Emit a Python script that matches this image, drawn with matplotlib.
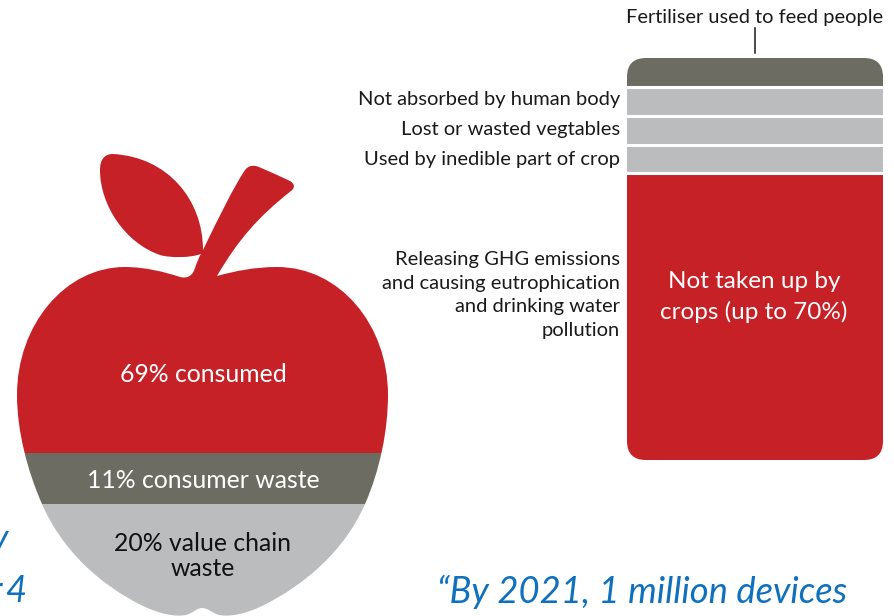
import matplotlib
matplotlib.use('Agg')
import matplotlib.pyplot as plt
from matplotlib.path import Path
from matplotlib.patches import PathPatch, FancyBboxPatch

RED = '#c62127'
DARK = '#6d6c62'
GREY = '#bbbcbe'
BLUE = '#0f70bd'
FONT = 'Lato'

# Food shares shown on the apple, bottom band first
apple_labels = ['20% value chain\nwaste', '11% consumer waste', '69% consumed']
apple_shares = [20, 11, 69]
apple_colors = [GREY, DARK, RED]
apple_text_colors = ['#111111', 'white', 'white']
# The silhouette is not linear in share, so the band edges are set by hand
apple_band_edges = [620, 504, 453, 150]
apple_label_y = [556, 481, 375]

# Fertiliser column, bottom segment first
column_values = [70, 7.05, 7.05, 7.05, 7.05]
column_colors = [RED, GREY, GREY, GREY, DARK]
column_side_labels = ['Releasing GHG emissions\nand causing eutrophication\nand drinking water\npollution',
                      'Used by inedible part of crop',
                      'Lost or wasted vegtables',
                      'Not absorbed by human body']
column_side_y = [295, 159, 129, 100]

fig = plt.figure(figsize=(8.95, 6.16), dpi=100)
ax = fig.add_axes([0, 0, 1, 1], zorder=2)
ax.set_xlim(0, 895)
ax.set_ylim(616, 0)
ax.axis('off')

# apple outline: body, stem and leaf as one path
verts = [
    (217, 276),
    (235, 271), (255, 267), (277, 267),
    (340, 267), (388, 325), (388, 395),
    (388, 430), (380, 470), (365, 504),
    (345, 550), (305, 585), (262, 606),
    (245, 614), (230, 617), (219, 615),
    (212, 613), (208, 608), (202, 608),
    (197, 608), (193, 613), (186, 615),
    (175, 617), (160, 614), (143, 606),
    (100, 585), (62, 550), (42, 504),
    (27, 470), (17, 430), (17, 395),
    (17, 325), (65, 267), (125, 267),
    (145, 267), (165, 272), (180, 277),
    (188, 279), (193, 275), (195, 268),
    (197, 262), (199, 257), (201, 254),
    (190, 258), (170, 258), (160, 255),
    (125, 243), (100, 205), (100, 170),
    (100, 160), (104, 154), (113, 154),
    (168, 157), (203, 200), (203, 250),
    (220, 215), (232, 190), (245, 170),
    (249, 165), (254, 165), (259, 167),
    (270, 172), (280, 176), (290, 181),
    (295, 184), (295, 188), (291, 191),
    (258, 217), (238, 240), (217, 276),
]
codes = [Path.MOVETO] + [Path.CURVE4] * (len(verts) - 1)
apple = PathPatch(Path(verts, codes), facecolor='none', edgecolor='none', transform=ax.transData)
ax.add_patch(apple)

for i in range(len(apple_shares)):
    band = ax.bar(200, apple_band_edges[i + 1] - apple_band_edges[i], width=400,
                  bottom=apple_band_edges[i], color=apple_colors[i], linewidth=0)
    band[0].set_clip_path(apple)
    ax.text(203, apple_label_y[i], apple_labels[i], color=apple_text_colors[i], fontsize=17.8,
            family=FONT, ha='center', va='center', linespacing=1.08)

# column axes is scaled to the values, the rounded shape trims the outer corners
left, right, top, bottom = 627, 883, 58, 460
ax2 = fig.add_axes([left / 895, 1 - bottom / 616, (right - left) / 895, (bottom - top) / 616], zorder=1)
ax2.set_xlim(0, 1)
ax2.set_ylim(0, sum(column_values))
ax2.axis('off')

outline = FancyBboxPatch((left + 19, top + 19), right - left - 38, bottom - top - 38,
                         boxstyle='round,pad=19,rounding_size=19',
                         facecolor='none', edgecolor='none', transform=ax.transData)
ax.add_patch(outline)

base = 0
for val, col in zip(column_values, column_colors):
    seg = ax2.bar(0.5, val, width=1, bottom=base, color=col, linewidth=0)
    seg[0].set_clip_path(outline)
    base += val
    if base < sum(column_values) - 0.01:
        ax2.axhline(base, color='white', lw=2.2)

for lab, y in zip(column_side_labels, column_side_y):
    ax.text(620, y, lab, fontsize=14.5, family=FONT, color='#1a1a1a', ha='right', va='center',
            linespacing=1.49)

ax.text(755, 18, 'Fertiliser used to feed people', fontsize=14.4, family=FONT, color='#1a1a1a',
        ha='center', va='center')
ax.plot([755, 755], [28, 53], color='#1a1a1a', lw=1.1)
ax.text(754, 297, 'Not taken up by\ncrops (up to 70%)', fontsize=17.5, family=FONT, color='white',
        ha='center', va='center', linespacing=1.5)

# pull quote running under the charts
ax.text(437, 592, '\u201cBy 2021, 1 million devices', fontsize=26.2, family=FONT, style='italic',
        color=BLUE, ha='left', va='center')
ax.text(8, 540, 'y', fontsize=26.2, family=FONT, style='italic', color=BLUE, ha='right', va='center')
ax.text(2, 591, 'r', fontsize=26.2, family=FONT, style='italic', color=BLUE, ha='right', va='center')
ax.text(26, 591, '4', fontsize=26.2, family=FONT, style='italic', color=BLUE, ha='right', va='center')

fig.savefig('out.png', dpi=100)
